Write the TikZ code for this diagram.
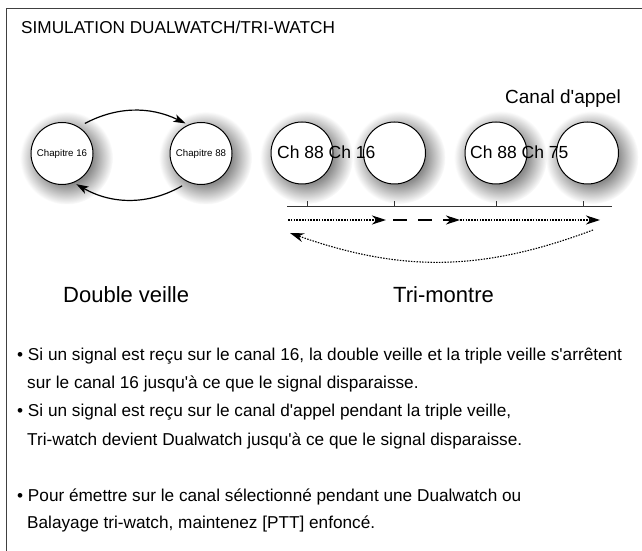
\documentclass[tikz,border=0pt]{standalone}
\usepackage{fontspec}
\setmainfont{Liberation Sans}
\usetikzlibrary{arrows.meta,calc,positioning,shadows,fadings}
\pgfdeclareradialshading{halo}{\pgfpointorigin}{color(0bp)=(pgftransparent!0);
  color(14bp)=(pgftransparent!0); color(25bp)=(pgftransparent!100);
  color(50bp)=(pgftransparent!100)}
\pgfdeclarefading{halo}{\pgfuseshading{halo}}
\newdimen\cdim
\cdim=62pt
\tikzstyle{channel}=[
  circle,
  draw=black,
  line width=1pt,
  fill=white,
  inner sep=0pt,
  minimum size=\cdim,
  circular drop shadow={shadow scale=1.5, shadow xshift=3pt, shadow yshift=-3pt,
    opacity=.75, fill=black!60, path fading=halo},
  font={\fontsize{9.7}{11}\selectfont},
]
\tikzstyle{arrow}=[
  draw=black,
  line width=1.2pt,
  -{Stealth[length=12pt,width=8pt,inset=3pt]},
]
\tikzstyle{scan}=[
  draw=black,
  line width=1.1pt,
  dash pattern=on 1.5pt off 1.3pt,
  -{Stealth[length=14pt,width=9pt,inset=4.5pt]},
]
\tikzstyle{textline}=[
  anchor=base west,
  inner sep=0pt,
  font={\fontsize{17.2}{20}\selectfont},
]
\tikzstyle{chtext}=[
  anchor=base west,
  inner sep=0pt,
  font={\fontsize{17.5}{20}\selectfont},
]
\tikzstyle{caption}=[
  anchor=base west,
  inner sep=0pt,
  font={\fontsize{22}{26}\selectfont},
]
\tikzset{
  x=1pt,
  y=1pt,
  >=Stealth,
}

\begin{document}
\begin{tikzpicture}
  \useasboundingbox (0,0) rectangle (642,551);
  \draw [line width=1.4pt, black!75] (642,542.5) -- (6.5,542.5) -- (6.5,0);
  \node (title) [textline] at (21,517) {SIMULATION DUALWATCH/TRI-WATCH};
  %% double veille
  \node (ch16) [channel] at (62,397.5) {Chapitre 16};
  \node (ch88) [channel] at (201,397.5) {Chapitre 88};
  \draw [arrow, shorten <=7pt, shorten >=3pt] (ch16.58) to [bend left=27] (ch88.114);
  \draw [arrow, shorten <=7pt, shorten >=3pt] (ch88.246) to [bend left=30] (ch16.292);
  \node (dual) [caption] at (63,248) {Double veille};
  %% tri-montre
  \node (tri88) [channel] at (302,398) {};
  \node (tri16) [channel] at (394.5,398) {};
  \node (tri88b) [channel] at (496,398) {};
  \node (tri75) [channel] at (587.5,398) {};
  \node (lab1) [chtext] at (277,392) {Ch 88 Ch 16};
  \node (lab2) [chtext] at (470,392) {Ch 88 Ch 75};
  \node (appel) [anchor=base west, inner sep=0pt, font={\fontsize{19}{22}\selectfont}]
    at (505,447) {Canal d\textquotesingle appel};
  %%
  \coordinate (axisW) at (287,344.5);
  \coordinate (axisE) at (612,344.5);
  \draw [line width=1.2pt, black!80] (axisW) -- (axisE);
  \foreach \x in {307,394,496,583}
    \draw [line width=1pt, black!80] (\x,344.5) -- ++(0,5);
  \coordinate (s0) at (288,331);
  \coordinate (s1) at (386,331);
  \coordinate (s2) at (393,331);
  \coordinate (s3) at (460,331);
  \coordinate (s4) at (600,331);
  \draw [scan] (s0) -- (s1);
  \draw [scan, dash pattern=on 14pt off 11pt] (s2) -- (s3);
  \draw [scan] (s3) -- (s4);
  \coordinate (r0) at (593,321);
  \coordinate (r1) at (290,318);
  \draw [scan] (r0) to [bend left=20] (r1);
  \node (tri) [caption] at (393,248) {Tri-montre};
  %% notes
  \node (n1) [textline] at (17,190) {• Si un signal est reçu sur le canal 16, la double veille et la triple veille s\textquotesingle arrêtent};
  \node (n2) [textline] at (27,162) {sur le canal 16 jusqu\textquotesingle à ce que le signal disparaisse.};
  \node (n3) [textline] at (17,134) {• Si un signal est reçu sur le canal d\textquotesingle appel pendant la triple veille,};
  \node (n4) [textline] at (27,105) {Tri-watch devient Dualwatch jusqu\textquotesingle à ce que le signal disparaisse.};
  \node (n5) [textline] at (17,49) {• Pour émettre sur le canal sélectionné pendant une Dualwatch ou};
  \node (n6) [textline] at (27,22) {Balayage tri-watch, maintenez [PTT] enfoncé.};
\end{tikzpicture}
\end{document}
